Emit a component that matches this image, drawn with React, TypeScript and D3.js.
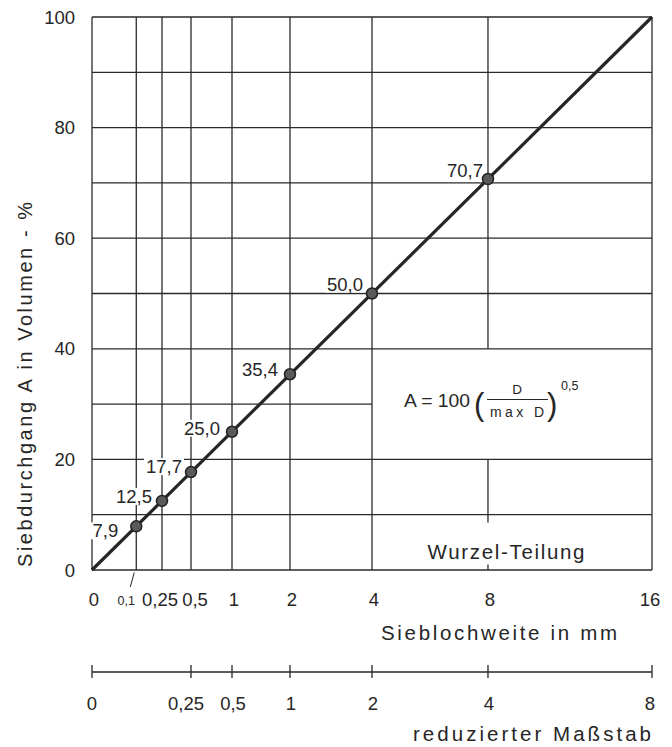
import React from "react";
import * as d3 from "d3";

// ---- data ----
const sieveSizes = [0.1, 0.25, 0.5, 1, 2, 4, 8]; // D in mm
const passing = [7.9, 12.5, 17.7, 25.0, 35.4, 50.0, 70.7]; // A in Vol-%
const lineStart = { d: 0, a: 0 };
const lineEnd = { d: 16, a: 100 };
const xGridValues = [0, 0.1, 0.25, 0.5, 1, 2, 4, 8, 16];
const xTickLabels = [0, 0.25, 0.5, 1, 2, 4, 8, 16];
const smallTick = 0.1;
const yGridValues = [0, 10, 20, 30, 40, 50, 60, 70, 80, 90, 100];
const yTickLabels = [0, 20, 40, 60, 80, 100];
const reducedTicks = [0, 0.25, 0.5, 1, 2, 4, 8];

// ---- layout (not data) ----
const labelOffsets = [
  [-18, 11],
  [-10, 2],
  [-9, 1],
  [-12, 3],
  [-12, 2],
  [-9, -3],
  [-5, -2],
];

const loc = d3.formatLocale({ decimal: ",", thousands: ".", grouping: [3], currency: ["", "€"] });
const fmt1 = loc.format(".1f");
const fmtTick = (v: number) => String(v).replace(".", ",");

const FONT = "'Liberation Sans', Arial, sans-serif";
const INK = "#262626";

export default function App() {
  const x = d3.scaleSqrt().domain([0, 16]).range([92, 652]);
  const y = d3.scaleLinear().domain([0, 100]).range([570, 17]);
  const xr = d3.scaleSqrt().domain([0, 8]).range([92, 652]);
  const line = d3.line<{ d: number; a: number }>().x((p) => x(p.d)).y((p) => y(p.a));
  const axisY = 672;

  const textWidth = (s: string) => {
    let w = 0;
    for (const c of s) w += c === "," ? 5 : 10;
    return w;
  };

  const vSegments: { d: number; a0: number; a1: number }[] = [];
  xGridValues.forEach((d) => {
    if (d === 8) {
      vSegments.push({ d, a0: 40, a1: 100 });
      vSegments.push({ d, a0: 8.6, a1: 20 });
      vSegments.push({ d, a0: 0, a1: 1 });
    } else vSegments.push({ d, a0: 0, a1: 100 });
  });
  const hSegments = yGridValues.map((a) => ({ a, d0: 0, d1: a === 30 ? 4 : 16 }));

  return (
    <svg
      width={672}
      height={747}
      style={{ position: "absolute", left: 0, top: 0, background: "#fff" }}
      fontFamily={FONT}
    >
      <rect width={672} height={747} fill="#fff" />
      <g stroke="#2a2a2a" strokeWidth={1.3}>
        {vSegments.map((s, i) => (
          <line key={"v" + i} x1={x(s.d)} x2={x(s.d)} y1={y(s.a0)} y2={y(s.a1)} />
        ))}
        {hSegments.map((s, i) => (
          <line key={"h" + i} x1={x(s.d0)} x2={x(s.d1)} y1={y(s.a)} y2={y(s.a)} />
        ))}
      </g>

      <g fontSize={18.5} fill={INK} textAnchor="end">
        {yTickLabels.map((v) => (
          <text key={v} x={75} y={y(v) + 6.5}>
            {v}
          </text>
        ))}
      </g>
      <text
        transform={`translate(32,384.5) rotate(-90)`}
        textAnchor="middle"
        fontSize={20}
        fill={INK}
        textLength={365}
        lengthAdjust="spacing"
      >
        Siebdurchgang  A  in  Volumen - %
      </text>

      <g fontSize={18.5} fill={INK} textAnchor="middle">
        {xTickLabels.map((v) => (
          <text key={v} x={x(v) + (v === 0 ? 2 : v === 0.25 ? -2 : v === 0.5 ? 4 : v === 16 ? -2 : 2)} y={606}>
            {fmtTick(v)}
          </text>
        ))}
      </g>
      <line x1={x(smallTick) - 2} y1={572.5} x2={x(smallTick) - 6} y2={587} stroke={INK} strokeWidth={1} />
      <text x={x(smallTick) - 10} y={605} fontSize={12.5} textAnchor="middle" fill={INK}>
        {fmtTick(smallTick)}
      </text>
      <text x={499} y={640} fontSize={20.5} textAnchor="middle" fill={INK} textLength={236} lengthAdjust="spacing">
        Sieblochweite  in  mm
      </text>

      <line x1={xr(0)} x2={xr(8)} y1={axisY} y2={axisY} stroke={INK} strokeWidth={1.3} />
      {reducedTicks.map((v) => (
        <line key={v} x1={xr(v)} x2={xr(v)} y1={axisY - 7} y2={axisY + 6} stroke={INK} strokeWidth={1.3} />
      ))}
      <g fontSize={18.5} fill={INK} textAnchor="middle">
        {reducedTicks.map((v) => (
          <text key={v} x={xr(v) + (v === 0 ? 0 : v === 0.25 ? -5 : v === 8 ? -2 : 1)} y={710}>
            {fmtTick(v)}
          </text>
        ))}
      </g>
      <text x={532} y={741} fontSize={20.5} textAnchor="middle" fill={INK} textLength={238} lengthAdjust="spacing">
        reduzierter Maßstab
      </text>

      <text x={506} y={559} fontSize={20.5} textAnchor="middle" fill={INK} textLength={157} lengthAdjust="spacing">
        Wurzel-Teilung
      </text>
      <g fill={INK}>
        <text x={404} y={407} fontSize={19} textLength={66} lengthAdjust="spacingAndGlyphs">
          A = 100
        </text>
        <text x={474} y={415} fontSize={31} fontWeight={300}>
          (
        </text>
        <text x={517} y={394} fontSize={13.5} textAnchor="middle">
          D
        </text>
        <line x1={487} x2={548} y1={399.5} y2={399.5} stroke={INK} strokeWidth={1.2} />
        <text x={517} y={417} fontSize={14} textAnchor="middle" textLength={54} lengthAdjust="spacing">
          max  D
        </text>
        <text x={547} y={415} fontSize={31}>
          )
        </text>
        <text x={561} y={390} fontSize={12.5}>
          0,5
        </text>
      </g>

      {sieveSizes.map((d, i) => {
        const s = fmt1(passing[i]);
        const w = textWidth(s);
        const tx = x(d) + labelOffsets[i][0];
        const ty = y(passing[i]) + labelOffsets[i][1];
        return (
          <g key={"l" + i}>
            <rect x={tx - w - 3} y={ty - 15} width={w + 5} height={17} fill="#fff" />
            <text x={tx} y={ty} fontSize={18.5} textAnchor="end" fill={INK}>
              {s}
            </text>
          </g>
        );
      })}

      <path d={line([lineStart, lineEnd]) || ""} stroke={INK} strokeWidth={3.2} fill="none" />
      {sieveSizes.map((d, i) => (
        <circle key={"p" + i} cx={x(d)} cy={y(passing[i])} r={5.5} fill="#5a5a5a" stroke="#222" strokeWidth={1.5} />
      ))}
    </svg>
  );
}
